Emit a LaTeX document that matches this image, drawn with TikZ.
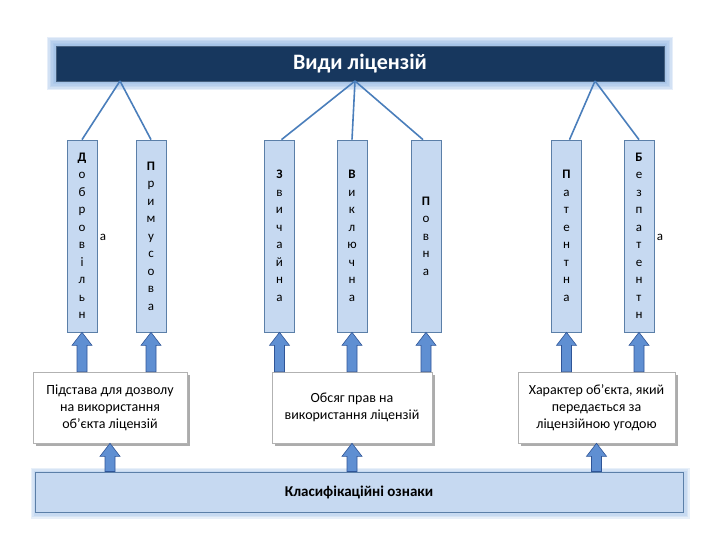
\documentclass[tikz,border=0pt]{standalone}
\usepackage{fontspec}
\setmainfont{Carlito}
\usetikzlibrary{calc,shadows,backgrounds}
\definecolor{navy}{HTML}{17375E}
\definecolor{glowc}{HTML}{8DB3E2}
\definecolor{boxfill}{HTML}{C6D9F1}
\definecolor{boxdraw}{HTML}{5B7FA8}
\definecolor{linec}{HTML}{4A7EBB}
\definecolor{arrfill}{HTML}{5F8FD2}
\definecolor{arrdraw}{HTML}{2F5597}
\newcommand\blockarrow[2]{%
  \draw[barrow] let \p1=#1, \p2=#2 in
    (\x1-5pt,\y1) -- (\x1-5pt,\y2-13pt) -- (\x1-10pt,\y2-13pt) -- (\x1,\y2)
    -- (\x1+10pt,\y2-13pt) -- (\x1+5pt,\y2-13pt) -- (\x1+5pt,\y1) -- cycle;}
\tikzset{
  topbar/.style={draw=navy!80!white, fill=navy, line width=0.8pt, minimum width=608pt, minimum height=35pt, inner sep=0pt, text=white, font=\fontsize{22}{26}\selectfont\bfseries},
  vbox/.style={draw=boxdraw, fill=boxfill, line width=0.7pt, minimum width=30pt, minimum height=192pt, inner sep=0pt, align=center, font=\fontsize{13}{17.5}\selectfont},
  wbox/.style={draw=gray!60, fill=white, line width=0.6pt, minimum height=71pt, inner sep=0pt, align=center, font=\fontsize{14}{17}\selectfont, drop shadow={shadow xshift=3pt, shadow yshift=-3pt, fill=gray!65, opacity=1}},
  botbar/.style={draw=boxdraw, fill=boxfill, line width=1pt, minimum width=648pt, minimum height=40pt, inner sep=0pt, font=\fontsize{15}{18}\selectfont\bfseries},
  conn/.style={draw=linec, line width=1.6pt},
  barrow/.style={fill=arrfill, draw=arrdraw, line width=0.6pt, line join=miter},
  outa/.style={inner sep=0pt, font=\fontsize{13}{15}\selectfont},
}
\begin{document}
\begin{tikzpicture}[x=1pt,y=-1pt]
\useasboundingbox (0,0) rectangle (720,540);
% top bar
\node[topbar] (top) at (360,63.5) {Види ліцензій};
% vertical boxes
\node[vbox] (d) at (82,236) {\textbf{Д}\\о\\б\\р\\о\\в\\і\\л\\ь\\н};
\node[vbox] (p) at (151,236) {\textbf{П}\\р\\и\\м\\у\\с\\о\\в\\а};
\node[vbox] (z) at (279.5,236) {\textbf{З}\\в\\и\\ч\\а\\й\\н\\а};
\node[vbox] (v) at (352,236) {\textbf{В}\\и\\к\\л\\ю\\ч\\н\\а};
\node[vbox] (pv) at (426,236) {\textbf{П}\\о\\в\\н\\а};
\node[vbox] (pt) at (566.5,236) {\textbf{П}\\а\\т\\е\\н\\т\\н\\а};
\node[vbox] (b) at (639,236) {\textbf{Б}\\е\\з\\п\\а\\т\\е\\н\\т\\н};
\node[outa] (a1) at (103,237) {а};
\node[outa] (a2) at (660,237) {а};
% bottom boxes
\node[wbox, minimum width=154pt] (bl) at (110,407.5) {Підстава для дозволу\\на використання\\об’єкта ліцензій};
\node[wbox, minimum width=160pt] (bm) at (352,407.5) {Обсяг прав на\\використання ліцензій};
\node[wbox, minimum width=157pt] (br) at (596.5,407.5) {Характер об’єкта, який\\передається за\\ліцензійною угодою};
% bottom bar
\node[botbar] (bar) at (359,492) {Класифікаційні ознаки};
% glows
\begin{scope}[on background layer]
\foreach \g in {9,7.5,6,4.5,3,1.5}
  \fill[glowc, opacity=0.22] ($(top.south west)+(-\g,\g)$) rectangle ($(top.north east)+(\g,-\g)$);
\foreach \g in {5,3.5,2}
  \fill[glowc, opacity=0.2] ($(bar.south west)+(-\g+1,\g+1)$) rectangle ($(bar.north east)+(\g+1,-\g+1)$);
\end{scope}
% connectors
\coordinate (j1) at (120,81);
\coordinate (j2) at (355,81);
\coordinate (j3) at (595,81);
\draw[conn] (j1) -- (d.north);
\draw[conn] (j1) -- (p.north);
\draw[conn] (j2) -- ($(z.north)+(2,0)$);
\draw[conn] (j2) -- (v.north);
\draw[conn] (j2) -- ($(pv.north)+(-3,0)$);
\draw[conn] (j3) -- ($(pt.north)+(3,0)$);
\draw[conn] (j3) -- (b.north);
% block arrows
\blockarrow{(bl.north -| d.south)}{(d.south)}
\blockarrow{(bl.north -| p.south)}{(p.south)}
\blockarrow{(bm.north -| z.south)}{(z.south)}
\blockarrow{(bm.north -| v.south)}{(v.south)}
\blockarrow{(bm.north -| pv.south)}{(pv.south)}
\blockarrow{(br.north -| pt.south)}{(pt.south)}
\blockarrow{(br.north -| b.south)}{(b.south)}
\blockarrow{(bar.north -| bl.south)}{(bl.south)}
\blockarrow{(bar.north -| bm.south)}{(bm.south)}
\blockarrow{(bar.north -| br.south)}{(br.south)}
\end{tikzpicture}
\end{document}
